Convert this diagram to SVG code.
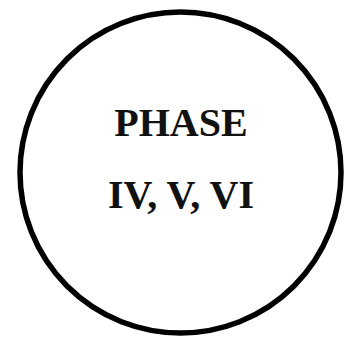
<svg xmlns="http://www.w3.org/2000/svg" width="346" height="339" viewBox="0 0 346 339">
<style>
.ring{fill:#fff;stroke:#000;stroke-width:5.5}
.lbl{font-family:"Liberation Serif","Times New Roman",serif;font-weight:bold;font-size:40px;fill:#111;text-anchor:middle}
</style>
<rect width="346" height="339" fill="#fff"/>
<g id="phase-node">
<circle class="ring" cx="180.5" cy="172.5" r="160.5"/>
<text class="lbl" x="181" y="136">PHASE</text>
<text class="lbl" x="181" y="208">IV, V, VI</text>
</g>
<g id="connectors"/>
</svg>
